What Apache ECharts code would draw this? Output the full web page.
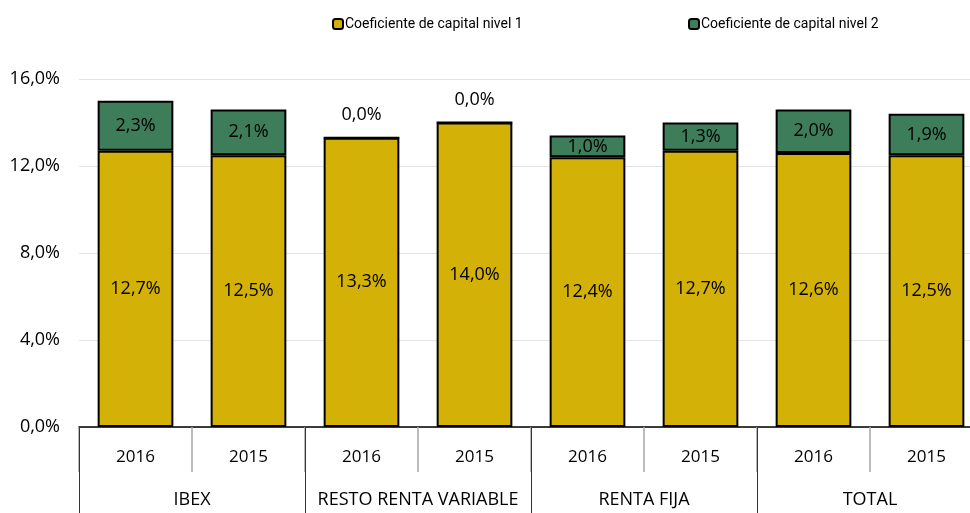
<!DOCTYPE html>
<html>
<head>
<meta charset="utf-8">
<script src="https://cdn.jsdelivr.net/npm/echarts@6/dist/echarts.min.js"></script>
<style>
  html, body { margin: 0; padding: 0; background: #fff; }
  #chart { width: 970px; height: 513px; }
</style>
</head>
<body>
<div id="chart"></div>
<script>
// datos
var years = ['2016', '2015', '2016', '2015', '2016', '2015', '2016', '2015'];
var groups = ['IBEX', 'RESTO RENTA VARIABLE', 'RENTA FIJA', 'TOTAL'];
var nivel1 = [12.7, 12.5, 13.3, 14.0, 12.4, 12.7, 12.6, 12.5];
var nivel2 = [2.3, 2.1, 0.0, 0.0, 1.0, 1.3, 2.0, 1.9];
var yTicks = [0, 4, 8, 12, 16];

var FONT = '"Open Sans", sans-serif';
var fmt = function (v) { return v.toFixed(1).replace('.', ',') + '%'; };

var chart = echarts.init(document.getElementById('chart'));

var option = {
  animation: false,
  textStyle: { fontFamily: FONT },
  legend: [
    {
      data: ['Coeficiente de capital nivel 1'],
      left: 327, top: 12,
      itemWidth: 10, itemHeight: 10, itemGap: 3,
      textStyle: { fontSize: 14, color: '#000', fontFamily: 'Roboto', padding: [0, 0, 0, -3] }
    },
    {
      data: ['Coeficiente de capital nivel 2'],
      left: 683, top: 12,
      itemWidth: 10, itemHeight: 10, itemGap: 3,
      textStyle: { fontSize: 14, color: '#000', fontFamily: 'Roboto', padding: [0, 0, 0, -3] }
    }
  ],
  grid: { left: 79, top: 79, width: 904, height: 348, outerBoundsMode: 'none', containLabel: false },
  yAxis: {
    type: 'value', min: yTicks[0], max: yTicks[yTicks.length - 1], interval: 4,
    axisLine: { show: false }, axisTick: { show: false },
    axisLabel: { formatter: fmt, fontSize: 18, color: '#000', margin: 19, fontFamily: FONT },
    splitLine: { lineStyle: { color: '#e3e3e3', width: 1 } }
  },
  xAxis: [
    {
      type: 'category', data: years, position: 'bottom',
      axisLine: { lineStyle: { color: '#000', width: 1.5 } },
      axisTick: { show: true, interval: 0, length: 45, lineStyle: { color: '#a6a6a6', width: 1.5 } },
      axisLabel: { fontSize: 17, color: '#000', margin: 22, fontFamily: FONT }
    },
    {
      type: 'category', data: groups, position: 'bottom',
      axisLine: { show: false },
      axisTick: { show: true, interval: 0, length: 90, lineStyle: { color: '#333', width: 1 } },
      axisLabel: { fontSize: 18, color: '#000', margin: 64, fontFamily: FONT, interval: 0 }
    }
  ],
  series: [
    {
      name: 'Coeficiente de capital nivel 1', type: 'bar', stack: 'total', xAxisIndex: 0,
      barWidth: '67%',
      itemStyle: { color: '#d4b106', borderColor: '#000', borderWidth: 2 },
      label: { show: true, position: 'inside', formatter: function (p) { return fmt(p.value); },
        fontSize: 18, color: '#000', fontFamily: FONT },
      data: nivel1
    },
    {
      name: 'Coeficiente de capital nivel 2', type: 'bar', stack: 'total', xAxisIndex: 0,
      barWidth: '67%',
      itemStyle: { color: '#3e7d59', borderColor: '#000', borderWidth: 2 },
      label: { show: true, position: 'inside', formatter: function (p) { return fmt(p.value); },
        fontSize: 18, color: '#000', fontFamily: FONT },
      data: nivel2.map(function (v) {
        return v === 0 ? { value: v, label: { position: 'top', distance: 13 } } : v;
      })
    }
  ]
};

chart.setOption(option);
</script>
</body>
</html>
